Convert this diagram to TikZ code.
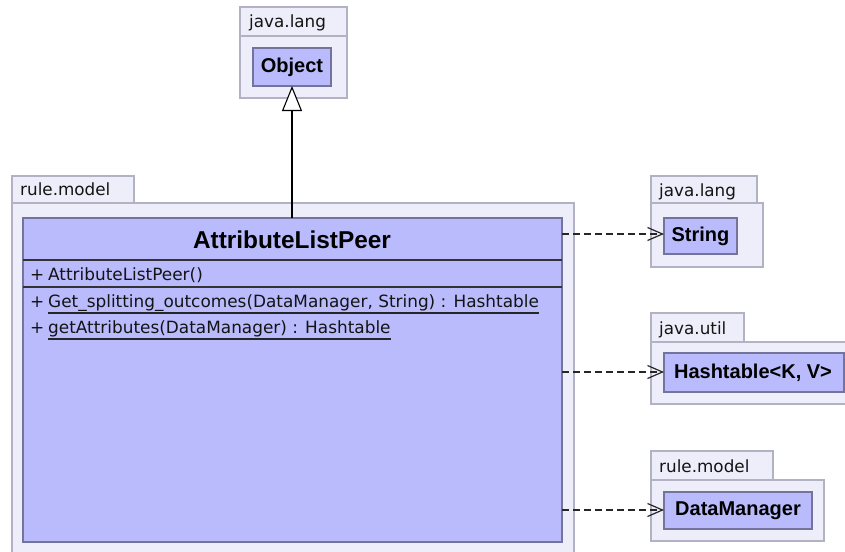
\documentclass[tikz,border=0pt]{standalone}
\usepackage{fontspec}
\setmainfont{DejaVu Sans}
\newfontfamily\titlefont{Liberation Sans}
\usetikzlibrary{arrows.meta}
\definecolor{pkgfill}{RGB}{238,238,250}
\definecolor{pkgline}{RGB}{178,178,196}
\definecolor{clsfill}{RGB}{185,187,253}
\definecolor{clsline}{RGB}{115,115,155}
\definecolor{txt}{RGB}{20,20,20}
\tikzset{
  pkg/.style={draw=pkgline, fill=pkgfill, line width=1.2pt},
  cls/.style={draw=clsline, fill=clsfill, line width=1.2pt},
  sep/.style={draw=black!80, line width=1.5pt},
  pkglabel/.style={anchor=base west, inner sep=0pt, font=\fontsize{16.8}{18}\selectfont, text=txt},
  clsname/.style={font=\titlefont\bfseries\fontsize{20}{22}\selectfont, text=black, inner sep=0pt},
  member/.style={anchor=base west, inner sep=0pt, font=\fontsize{16.9}{18}\selectfont, text=txt},
  dep/.style={draw=black!85, line width=1.2pt, dash pattern=on 7pt off 4pt,
    -{Straight Barb[length=15pt,width=13pt,line width=1.2pt]}},
  gen/.style={draw=black, line width=1.1pt,
    -{Triangle[open,length=25pt,width=20pt,line width=1.1pt,fill=white]}}
}
\begin{document}
\begin{tikzpicture}[x=1pt,y=-1pt]
\useasboundingbox (0,0) rectangle (845,551);
\begin{scope}
\clip (0,0) rectangle (845,551);

% java.lang package holding Object
\draw[pkg] (240,7) rectangle (347,36);
\draw[pkg] (240,36) rectangle (347,98);
\node[pkglabel] (lblLang1) at (249,28) {java.lang};
\draw[cls] (253,48) rectangle (331,86);
\node[clsname] (object) at (292,67) {Object};
\coordinate (objBottom) at (292,86);

% rule.model package holding the class
\draw[pkg] (12,176) rectangle (134,203);
\draw[pkg] (12,203) rectangle (574,560);
\node[pkglabel] (lblModel1) at (20,195) {rule.model};

% AttributeListPeer class
\draw[cls] (23,218) rectangle (562,542);
\draw[sep] (23,260) -- (562,260);
\draw[sep] (23,287) -- (562,287);
\node[clsname, font=\titlefont\bfseries\fontsize{24.4}{26}\selectfont] (peer) at (292,240) {AttributeListPeer};
\coordinate (peerTop) at (292,218);
\node[member] (p1) at (30,280) {+};
\node[member] (m1) at (48,280) {AttributeListPeer()};
\node[member] (p2) at (30,307) {+};
\node[member] (m2) at (48,307) {Get\_splitting\_outcomes(DataManager, String) : Hashtable};
\draw[black!85, line width=1.1pt] (48,313) -- (m2.east |- 0,313);
\node[member] (p3) at (30,333) {+};
\node[member] (m3) at (48,333) {getAttributes(DataManager) : Hashtable};
\draw[black!85, line width=1.1pt] (48,339) -- (m3.east |- 0,339);

% java.lang package holding String
\draw[pkg] (651,176) rectangle (757,203);
\draw[pkg] (651,203) rectangle (763,267);
\node[pkglabel] (lblLang2) at (659,196) {java.lang};
\draw[cls] (664,218) rectangle (737,254);
\node[clsname] (string) at (700.5,236) {String};

% java.util package holding Hashtable
\draw[pkg] (651,313) rectangle (744,342);
\draw[pkg] (651,342) rectangle (860,404);
\node[pkglabel] (lblUtil) at (659,334) {java.util};
\draw[cls] (664,353) rectangle (844,392);
\node[clsname] (hash) at (753,372.5) {Hashtable<K, V>};

% rule.model package holding DataManager
\draw[pkg] (651,451) rectangle (773,480);
\draw[pkg] (651,480) rectangle (824,541);
\node[pkglabel] (lblModel2) at (659,472) {rule.model};
\draw[cls] (664,492) rectangle (812,529);
\node[clsname] (dm) at (738,510.5) {DataManager};

% connectors
\coordinate (depA) at (562,234);
\coordinate (depB) at (562,372);
\coordinate (depC) at (562,510);
\draw[gen] (peerTop) -- (objBottom);
\draw[dep] (depA) -- (664,234);
\draw[dep] (depB) -- (664,372);
\draw[dep] (depC) -- (664,510);
\end{scope}
\end{tikzpicture}
\end{document}
